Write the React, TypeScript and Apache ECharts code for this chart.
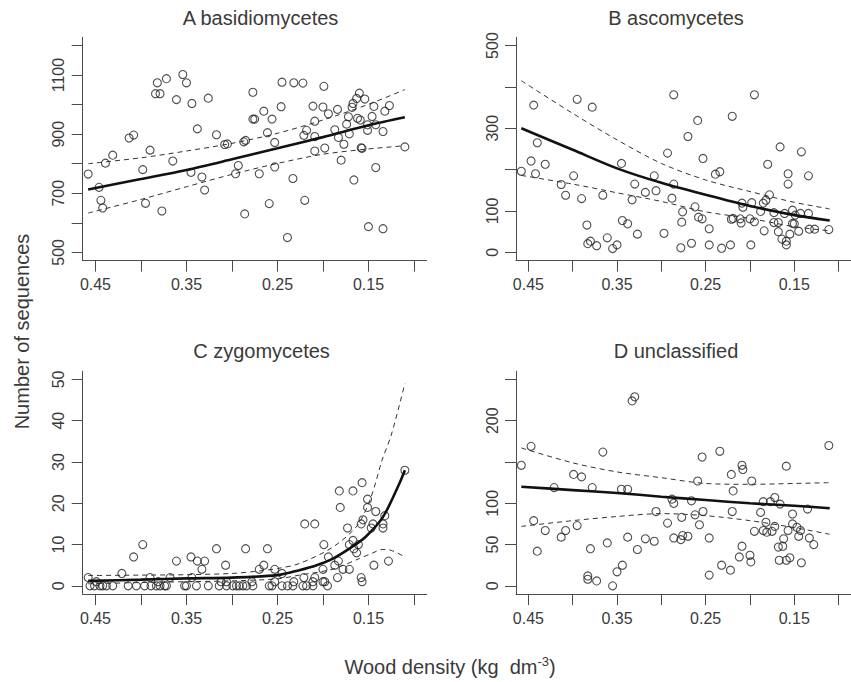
import React, { useEffect, useRef } from "react";
import * as echarts from "echarts";

// ---------- data ----------
const xTicks = [0.1, 0.15, 0.2, 0.25, 0.3, 0.35, 0.4, 0.45];
const xLabels = [0.15, 0.25, 0.35, 0.45];

const titles = ["A basidiomycetes", "B ascomycetes", "C zygomycetes", "D unclassified"];

const aYTicks = [500, 600, 700, 800, 900, 1000, 1100, 1200];
const aYLabels = [500, 700, 900, 1100];
const bYTicks = [0, 100, 200, 300, 400, 500];
const bYLabels = [0, 100, 300, 500];
const cYTicks = [0, 10, 20, 30, 40, 50];
const cYLabels = [0, 10, 20, 30, 40, 50];
const dYTicks = [0, 50, 100, 150, 200, 250];
const dYLabels = [0, 50, 100, 200];

const aPoints: [number, number][] = [
  [0.458, 765], [0.446, 720], [0.444, 676], [0.442, 650], [0.439, 802], [0.431, 829],
  [0.413, 887], [0.408, 897], [0.398, 780], [0.395, 666], [0.39, 846], [0.384, 1037],
  [0.382, 1074], [0.379, 1037], [0.377, 640], [0.372, 1088], [0.365, 809], [0.361, 1017],
  [0.354, 1102], [0.35, 1074], [0.345, 771], [0.344, 1004], [0.338, 918], [0.333, 755],
  [0.33, 711], [0.326, 1022], [0.317, 898], [0.308, 865], [0.305, 867], [0.296, 766],
  [0.293, 794], [0.287, 874], [0.285, 879], [0.286, 630], [0.277, 1042], [0.277, 951],
  [0.275, 951], [0.27, 766], [0.265, 978], [0.261, 905], [0.259, 665], [0.256, 951],
  [0.253, 789], [0.253, 872], [0.246, 993], [0.245, 1076], [0.239, 550], [0.233, 750],
  [0.232, 1074], [0.222, 1073], [0.221, 896], [0.22, 676], [0.218, 913], [0.211, 995],
  [0.209, 944], [0.209, 892], [0.209, 843], [0.199, 1062], [0.2, 992], [0.198, 853],
  [0.194, 969], [0.187, 915], [0.184, 984], [0.183, 889], [0.18, 812], [0.177, 866],
  [0.174, 934], [0.172, 959], [0.171, 901], [0.168, 991], [0.167, 1004], [0.166, 745],
  [0.163, 1021], [0.162, 954], [0.16, 1039], [0.159, 948], [0.158, 854], [0.157, 852],
  [0.154, 1019], [0.151, 932], [0.151, 913], [0.15, 587], [0.146, 960], [0.144, 994],
  [0.142, 932], [0.142, 787], [0.134, 909], [0.134, 580], [0.132, 978], [0.127, 997],
  [0.11, 857],
];
const aFit: [number, number][] = [
  [0.458, 713], [0.4, 748], [0.35, 779], [0.3, 815], [0.25, 852], [0.2, 890], [0.15, 930], [0.11, 957],
];
const aUpper: [number, number][] = [
  [0.458, 800], [0.4, 820], [0.35, 843], [0.3, 869], [0.25, 903], [0.2, 948], [0.15, 1001], [0.11, 1051],
];
const aLower: [number, number][] = [
  [0.458, 633], [0.4, 679], [0.35, 722], [0.3, 764], [0.25, 801], [0.2, 832], [0.15, 850], [0.11, 861],
];

const bPoints: [number, number][] = [
  [0.458, 196], [0.447, 221], [0.444, 356], [0.442, 190], [0.44, 265], [0.431, 213],
  [0.413, 164], [0.408, 138], [0.399, 185], [0.395, 370], [0.39, 130], [0.384, 66],
  [0.383, 21], [0.38, 27], [0.378, 351], [0.373, 16], [0.366, 138], [0.361, 35],
  [0.355, 9], [0.35, 18], [0.345, 215], [0.344, 77], [0.338, 69], [0.333, 127],
  [0.33, 165], [0.327, 44], [0.318, 145], [0.308, 185], [0.306, 149], [0.297, 46],
  [0.293, 240], [0.288, 131], [0.286, 165], [0.286, 381], [0.278, 11], [0.277, 73],
  [0.276, 98], [0.27, 280], [0.266, 22], [0.262, 110], [0.259, 319], [0.258, 85],
  [0.254, 81], [0.253, 227], [0.246, 18], [0.246, 57], [0.239, 189], [0.234, 195],
  [0.232, 10], [0.222, 18], [0.221, 80], [0.22, 329], [0.219, 82], [0.211, 81],
  [0.21, 71], [0.209, 119], [0.208, 109], [0.2, 81], [0.199, 18], [0.198, 120],
  [0.195, 74], [0.195, 381], [0.188, 99], [0.184, 52], [0.185, 119], [0.182, 126],
  [0.18, 213], [0.178, 139], [0.173, 96], [0.173, 72], [0.168, 72], [0.168, 50],
  [0.166, 255], [0.164, 32], [0.161, 94], [0.159, 27], [0.159, 18], [0.157, 190],
  [0.157, 165], [0.155, 44], [0.152, 102], [0.152, 70], [0.15, 69], [0.149, 90],
  [0.145, 51], [0.143, 94], [0.142, 243], [0.134, 185], [0.134, 94], [0.133, 56],
  [0.127, 56], [0.111, 55],
];
const bFit: [number, number][] = [
  [0.458, 300], [0.4, 248], [0.35, 203], [0.3, 168], [0.25, 139], [0.2, 112], [0.15, 90], [0.11, 77],
];
const bUpper: [number, number][] = [
  [0.458, 415], [0.4, 336], [0.35, 272], [0.3, 215], [0.25, 175], [0.2, 147], [0.15, 121], [0.11, 105],
];
const bLower: [number, number][] = [
  [0.458, 186], [0.4, 165], [0.35, 144], [0.3, 123], [0.25, 98], [0.2, 82], [0.15, 62], [0.11, 52],
];

const cPoints: [number, number][] = [
  [0.458, 2], [0.449, 1], [0.421, 3], [0.408, 7], [0.398, 10], [0.39, 2], [0.381, 1],
  [0.368, 2], [0.361, 6], [0.345, 7], [0.344, 2], [0.338, 6], [0.333, 4], [0.33, 6],
  [0.317, 9], [0.312, 1], [0.307, 5], [0.306, 1], [0.285, 9], [0.278, 1], [0.27, 4],
  [0.265, 5], [0.261, 9], [0.253, 4], [0.253, 1], [0.245, 3], [0.232, 1], [0.221, 2],
  [0.22, 15], [0.209, 2], [0.209, 15], [0.211, 1], [0.2, 1], [0.199, 10], [0.2, 4],
  [0.198, 1], [0.194, 7], [0.187, 5], [0.184, 2], [0.183, 6], [0.182, 23], [0.181, 19],
  [0.178, 4], [0.173, 14], [0.171, 10], [0.171, 4], [0.167, 11], [0.167, 23], [0.166, 9],
  [0.163, 8], [0.161, 10], [0.158, 15], [0.158, 2], [0.157, 25], [0.157, 1], [0.156, 16],
  [0.151, 21], [0.151, 19], [0.147, 14], [0.145, 15], [0.144, 5], [0.142, 18],
  [0.134, 14], [0.134, 15], [0.132, 17], [0.128, 6], [0.11, 28],
  [0.456, 0], [0.451, 0], [0.445, 0], [0.442, 0], [0.438, 0], [0.431, 0], [0.414, 0],
  [0.405, 0], [0.396, 0], [0.389, 0], [0.383, 0], [0.379, 0], [0.374, 0], [0.372, 0],
  [0.352, 0], [0.35, 0], [0.339, 0], [0.326, 0], [0.314, 0], [0.306, 0], [0.299, 0],
  [0.295, 0], [0.292, 0], [0.288, 0], [0.284, 0], [0.277, 0], [0.259, 0], [0.256, 0],
  [0.245, 0], [0.239, 0], [0.233, 0], [0.222, 0], [0.218, 0], [0.211, 0], [0.195, 0],
];
const cFit: [number, number][] = [
  [0.458, 1.2], [0.4, 1.5], [0.35, 1.8], [0.3, 2.0], [0.25, 2.6], [0.226, 3.8], [0.207, 5.0],
  [0.189, 6.6], [0.171, 9.0], [0.153, 11.9], [0.134, 16.7], [0.116, 24.8], [0.11, 28],
];
const cUpper: [number, number][] = [
  [0.458, 2.5], [0.4, 2.6], [0.35, 2.7], [0.3, 3.0], [0.27, 3.6], [0.25, 4.2], [0.226, 5.4],
  [0.189, 9.4], [0.162, 14.7], [0.147, 21.6], [0.135, 30.5], [0.125, 36.5], [0.11, 49],
];
const cLower: [number, number][] = [
  [0.458, 0.5], [0.4, 0.8], [0.35, 1.0], [0.3, 1.2], [0.25, 1.7], [0.226, 2.6], [0.19, 4.0],
  [0.16, 6.6], [0.145, 8.0], [0.135, 8.8], [0.125, 8.6], [0.11, 7.0],
];

const dPoints: [number, number][] = [
  [0.458, 146], [0.447, 169], [0.444, 79], [0.44, 42], [0.431, 67], [0.421, 119],
  [0.413, 59], [0.408, 67], [0.399, 135], [0.395, 73], [0.39, 132], [0.383, 12],
  [0.383, 8], [0.38, 45], [0.378, 119], [0.373, 6], [0.366, 162], [0.361, 52],
  [0.355, 0], [0.35, 17], [0.345, 117], [0.344, 25], [0.338, 117], [0.338, 59],
  [0.333, 224], [0.33, 229], [0.327, 44], [0.318, 57], [0.308, 54], [0.306, 90],
  [0.293, 76], [0.288, 105], [0.286, 100], [0.286, 58], [0.278, 56], [0.277, 83],
  [0.276, 61], [0.27, 60], [0.266, 103], [0.262, 86], [0.259, 127], [0.257, 74],
  [0.254, 156], [0.253, 90], [0.246, 58], [0.246, 13], [0.234, 163], [0.232, 25],
  [0.222, 19], [0.221, 135], [0.22, 90], [0.219, 115], [0.212, 35], [0.209, 48],
  [0.209, 146], [0.208, 141], [0.2, 37], [0.199, 29], [0.198, 127], [0.195, 66],
  [0.188, 89], [0.185, 102], [0.185, 67], [0.182, 77], [0.181, 65], [0.177, 102],
  [0.175, 66], [0.172, 72], [0.172, 107], [0.168, 47], [0.167, 31], [0.166, 99],
  [0.163, 48], [0.162, 57], [0.159, 31], [0.159, 145], [0.157, 67], [0.155, 34],
  [0.152, 87], [0.152, 75], [0.147, 71], [0.145, 60], [0.143, 67], [0.142, 28],
  [0.135, 93], [0.133, 58], [0.128, 50], [0.111, 170],
];
const dFit: [number, number][] = [
  [0.458, 120], [0.4, 116], [0.35, 112.5], [0.3, 108], [0.25, 104], [0.2, 100], [0.15, 97], [0.11, 94],
];
const dUpper: [number, number][] = [
  [0.458, 167], [0.4, 149], [0.35, 138], [0.3, 131], [0.25, 124], [0.2, 123], [0.15, 124], [0.11, 125],
];
const dLower: [number, number][] = [
  [0.458, 72], [0.4, 79], [0.35, 84], [0.3, 87.5], [0.25, 85], [0.2, 79], [0.15, 70.5], [0.11, 62.5],
];

// ---------- layout ----------
const FONT = "'Liberation Sans', Arial, Helvetica, sans-serif";
const TEXT = "#3a3a3a";
const AXIS = "#4a4a4a";

type Panel = {
  points: [number, number][];
  fit: [number, number][];
  upper: [number, number][];
  lower: [number, number][];
  yMin: number;
  yMax: number;
  yTicks: number[];
  yLabels: number[];
  left: number;
  top: number;
  height: number;
  titleX: number;
  titleY: number;
};

const panels: Panel[] = [
  { points: aPoints, fit: aFit, upper: aUpper, lower: aLower, yMin: 472, yMax: 1228, yTicks: aYTicks, yLabels: aYLabels, left: 82.7, top: 37.3, height: 223.3, titleX: 260.5, titleY: 17.5 },
  { points: bPoints, fit: bFit, upper: bUpper, lower: bLower, yMin: -20, yMax: 520, yTicks: bYTicks, yLabels: bYLabels, left: 516, top: 37.3, height: 223.3, titleX: 676, titleY: 17.5 },
  { points: cPoints, fit: cFit, upper: cUpper, lower: cLower, yMin: -2, yMax: 52, yTicks: cYTicks, yLabels: cYLabels, left: 82.7, top: 371.2, height: 222.9, titleX: 261.5, titleY: 351 },
  { points: dPoints, fit: dFit, upper: dUpper, lower: dLower, yMin: -10, yMax: 260, yTicks: dYTicks, yLabels: dYLabels, left: 516, top: 371.2, height: 222.9, titleX: 676, titleY: 351 },
];

const PW = 344;

function buildOption() {
  const grid: any[] = [];
  const xAxis: any[] = [];
  const yAxis: any[] = [];
  const series: any[] = [];
  const graphic: any[] = [];

  panels.forEach((p, i) => {
    grid.push({ left: p.left, top: p.top, width: PW, height: p.height, containLabel: false });
    xAxis.push({
      type: "value",
      gridIndex: i,
      inverse: true,
      min: 0.086,
      max: 0.464,
      splitLine: { show: false },
      axisLine: { show: true, onZero: false, lineStyle: { color: AXIS, width: 1 } },
      axisTick: { show: true, customValues: xTicks, length: 11, lineStyle: { color: AXIS, width: 1 } },
      axisLabel: {
        show: true,
        customValues: xLabels,
        margin: 16,
        fontSize: 16,
        color: TEXT,
        fontFamily: FONT,
        formatter: (v: number) => v.toFixed(2),
      },
    });
    yAxis.push({
      type: "value",
      gridIndex: i,
      min: p.yMin,
      max: p.yMax,
      splitLine: { show: false },
      axisLine: { show: true, onZero: false, lineStyle: { color: AXIS, width: 1 } },
      axisTick: { show: true, customValues: p.yTicks, length: 11, lineStyle: { color: AXIS, width: 1 } },
      axisLabel: {
        show: true,
        customValues: p.yLabels,
        rotate: 90,
        margin: 16,
        fontSize: 16,
        color: TEXT,
        fontFamily: FONT,
        formatter: (v: number) => String(Math.round(v)),
      },
    });
    series.push({
      type: "scatter",
      xAxisIndex: i,
      yAxisIndex: i,
      data: p.points,
      symbol: "circle",
      symbolSize: 8,
      itemStyle: { color: "rgba(0,0,0,0)", borderColor: "#222", borderWidth: 1.1 },
      emphasis: { disabled: true },
      silent: true,
    });
    const lineCommon = {
      type: "line",
      xAxisIndex: i,
      yAxisIndex: i,
      showSymbol: false,
      symbol: "none",
      smooth: 0.3,
      silent: true,
      emphasis: { disabled: true },
    };
    series.push({ ...lineCommon, data: p.upper, lineStyle: { color: "#333", width: 1, type: [5, 4] } });
    series.push({ ...lineCommon, data: p.lower, lineStyle: { color: "#333", width: 1, type: [5, 4] } });
    series.push({ ...lineCommon, data: p.fit, lineStyle: { color: "#111", width: 2.6 } });

    graphic.push({
      type: "text",
      x: p.titleX,
      y: p.titleY,
      style: { text: titles[i], fontSize: 20, fontFamily: FONT, fill: TEXT, align: "center", verticalAlign: "middle" },
    });
  });

  graphic.push({
    type: "text",
    x: 22,
    y: 331.5,
    rotation: Math.PI / 2,
    style: { text: "Number of sequences", fontSize: 20, fontFamily: FONT, fill: TEXT, align: "center", verticalAlign: "middle" },
  });
  graphic.push({
    type: "text",
    x: 450,
    y: 667,
    style: {
      text: "{a|Wood density (kg  dm}{s|-3}{a|)}",
      align: "center",
      verticalAlign: "middle",
      rich: {
        a: { fontSize: 20, fontFamily: FONT, fill: TEXT, lineHeight: 24 },
        s: { fontSize: 13, fontFamily: FONT, fill: TEXT, verticalAlign: "top", lineHeight: 13 },
      },
    },
  });

  return {
    animation: false,
    backgroundColor: "#ffffff",
    grid,
    xAxis,
    yAxis,
    series,
    graphic,
  };
}

export default function App() {
  const ref = useRef<HTMLDivElement>(null);
  useEffect(() => {
    if (!ref.current) return;
    const chart = echarts.init(ref.current, undefined, { renderer: "svg", width: 851, height: 682 });
    chart.setOption(buildOption());
    return () => chart.dispose();
  }, []);
  return (
    <div
      ref={ref}
      style={{ position: "fixed", left: 0, top: 0, width: 851, height: 682, background: "#fff" }}
    />
  );
}
